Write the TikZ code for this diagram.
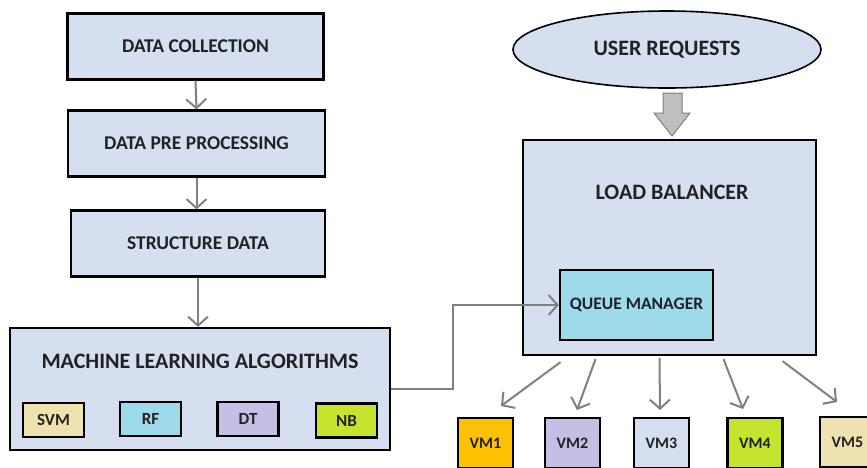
\documentclass[tikz,border=0pt]{standalone}
\usepackage{fontspec}
\setmainfont{Carlito}
\usetikzlibrary{arrows.meta,shapes.geometric}
\definecolor{boxblue}{HTML}{D5DFF0}
\definecolor{inktext}{HTML}{222222}
\definecolor{linegray}{HTML}{808080}
\definecolor{svmtan}{HTML}{EEE2B0}
\definecolor{rfcyan}{HTML}{9DDAEA}
\definecolor{dtlilac}{HTML}{C6BEE4}
\definecolor{nblime}{HTML}{C5E42E}
\definecolor{vmamber}{HTML}{FFC000}
\definecolor{fatgray}{HTML}{BFBFBF}
\tikzset{
  stagebox/.style={draw=black, line width=2.2pt, fill=boxblue, text=inktext,
    font=\bfseries\fontsize{19.5}{21}\selectfont, inner sep=0pt},
  tagbox/.style={draw=black, line width=2.2pt, text=inktext,
    font=\bfseries\fontsize{17}{19}\selectfont, inner sep=0pt,
    minimum width=61pt, minimum height=34pt},
  vmbox/.style={draw=black, line width=2.2pt, text=inktext,
    font=\bfseries\fontsize{16}{18}\selectfont, inner sep=0pt,
    minimum width=55pt, minimum height=50pt},
  title/.style={text=inktext, inner sep=0pt},
  arr/.style={draw=linegray, line width=2pt,
    -{Straight Barb[length=9pt,width=20pt,line width=2pt]}},
}
\begin{document}
\begin{tikzpicture}[x=1pt,y=-1pt]
\useasboundingbox (0,0) rectangle (867,467);

% pipeline on the left
\node[stagebox, minimum width=256pt, minimum height=66pt] (dc) at (195.5,46.5) {DATA COLLECTION};
\node[stagebox, minimum width=257pt, minimum height=66pt] (dpp) at (196.5,143.5) {DATA PRE PROCESSING};
\node[stagebox, minimum width=254pt, minimum height=66pt] (sd) at (198,243.5) {STRUCTURE DATA};
\node[stagebox, minimum width=380pt, minimum height=122pt] (mla) at (200,389) {};
\node[title, font=\bfseries\fontsize{22}{24}\selectfont] (mlat) at (200,361) {MACHINE LEARNING ALGORITHMS};
\node[tagbox, fill=svmtan] (svm) at (53.5,420) {SVM};
\node[tagbox, fill=rfcyan] (rf) at (150.5,419) {RF};
\node[tagbox, fill=dtlilac] (dt) at (248,419) {DT};
\node[tagbox, fill=nblime] (nb) at (346.5,420.5) {NB};

\draw[arr] (dc.south) -- (dpp.north);
\draw[arr] (dpp.south) -- (dpp.south |- sd.north);
\draw[arr] (sd.south) -- (sd.south |- mla.north);

% load balancing side
\node[draw=black, line width=1.6pt, fill=boxblue, ellipse, minimum width=308pt, minimum height=77pt,
  text=inktext, font=\bfseries\fontsize{22}{24}\selectfont, inner sep=0pt] (ur) at (667,49.5) {USER REQUESTS};
\node[stagebox, minimum width=293pt, minimum height=215pt] (lb) at (669.5,247.5) {};
\node[title, font=\bfseries\fontsize{22}{24}\selectfont] (lbt) at (672,192) {LOAD BALANCER};
\node[stagebox, fill=rfcyan, minimum width=153pt, minimum height=70pt,
  font=\bfseries\fontsize{17.5}{19}\selectfont] (qm) at (636.5,305) {QUEUE MANAGER};

% wide arrow from the requests into the balancer
\filldraw[fill=fatgray, draw=linegray, line width=1pt]
  (663,93) -- (682,93) -- (682,113) -- (690,113) -- (672,136) -- (654,113) -- (663,113) -- cycle;

\draw[arr] (mla.east) -- ++(62,0) |- (qm.west);

% virtual machines
\node[vmbox, fill=vmamber] (vm1) at (485.5,443) {VM1};
\node[vmbox, fill=dtlilac] (vm2) at (572.5,443) {VM2};
\node[vmbox, fill=boxblue] (vm3) at (661.5,443) {VM3};
\node[vmbox, fill=nblime] (vm4) at (755,443) {VM4};
\node[vmbox, fill=svmtan] (vm5) at (847.5,442) {VM5};

\coordinate (e1) at (501,406);
\coordinate (e2) at (577,410);
\coordinate (e3) at (660,410);
\coordinate (e4) at (743,409);
\coordinate (e5) at (837,402);
\draw[arr] ([shift={(-109,6)}]lb.south) -- (e1);
\draw[arr] ([shift={(-74,3)}]lb.south) -- (e2);
\draw[arr] ([shift={(-10,2)}]lb.south) -- (e3);
\draw[arr] ([shift={(54,3)}]lb.south) -- (e4);
\draw[arr] ([shift={(113,5)}]lb.south) -- (e5);
\end{tikzpicture}
\end{document}
